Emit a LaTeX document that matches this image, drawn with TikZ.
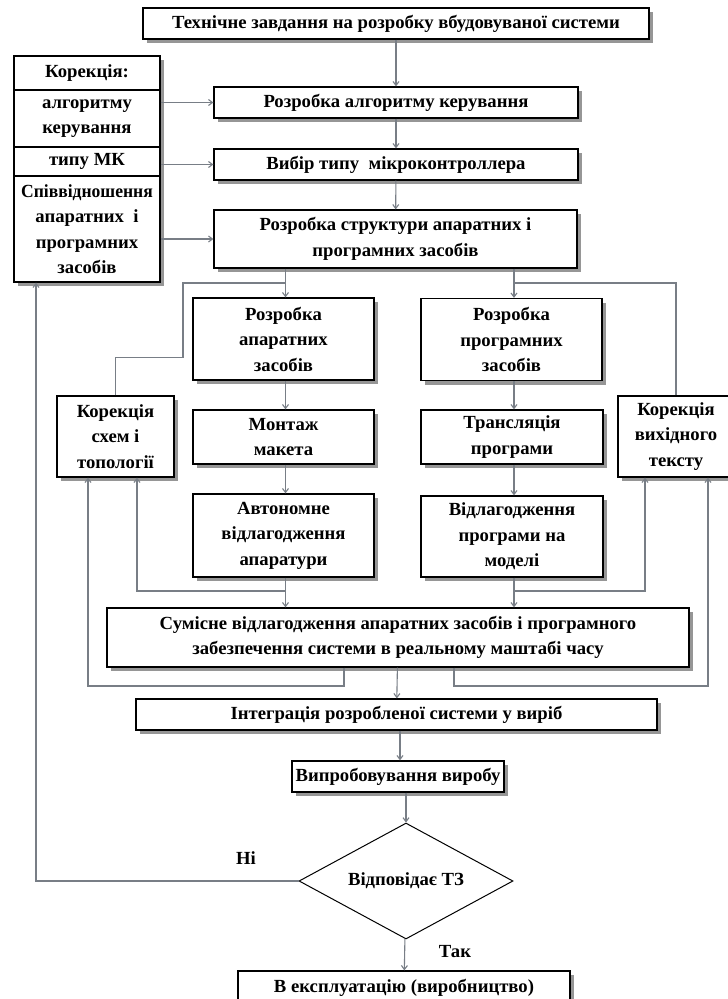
\documentclass[tikz,border=0pt]{standalone}
\usepackage{fontspec}
\usepackage{graphicx}
\setmainfont{Liberation Serif}[FakeStretch=1.01]
\usetikzlibrary{arrows.meta,shapes.geometric,shadows}
\definecolor{linegray}{RGB}{120,126,134}
\definecolor{shadowgray}{RGB}{150,150,150}
\begin{document}
\begin{tikzpicture}[x=1pt,y=-1pt,
  txt/.style={font=\bfseries\fontsize{18.5}{25.5}\selectfont, align=center, inner sep=0pt},
  box/.style={txt, draw=black, line width=1.2pt, fill=white,
    general shadow={fill=shadowgray, shadow xshift=4pt, shadow yshift=-4pt}},
  plain/.style={txt, draw=black, line width=1.2pt, fill=white},
  line/.style={draw=linegray, line width=1.1pt},
  arr/.style={line, -{Straight Barb[length=4pt,width=6pt]}}]
\clip (0,0) rectangle (728,999);
\fill[white] (0,0) rectangle (728,999);

% main column
\node[box, minimum width=506pt, minimum height=31pt] (top) at (396,23.5) {Технічне завдання на розробку вбудовуваної системи};
\node[box, minimum width=364pt, minimum height=31pt] (alg) at (396,102.5) {Розробка алгоритму керування};
\node[box, minimum width=364pt, minimum height=31pt] (mk) at (396,164.5) {Вибір типу \ мікроконтроллера};
\node[box, minimum width=363pt, minimum height=58pt] (struct) at (395.5,239) {Розробка структури апаратних і\\програмних засобів};

% left correction box
\node[box, minimum width=146pt, minimum height=226pt] (lb) at (87,169) {};
\node[plain, minimum width=146pt, minimum height=34pt] (lb1) at (87,73) {Корекція:};
\node[plain, minimum width=146pt, minimum height=57pt] (lb2) at (87,118.5) {алгоритму\\керування};
\node[plain, minimum width=146pt, minimum height=29pt] (lb3) at (87,161.5) {типу МК};
\node[plain, minimum width=146pt, minimum height=106pt] (lb4) at (87,229) {\scalebox{0.94}[1]{Співвідношення}\\апаратних \ і\\програмних\\засобів};

% two branches
\node[box, minimum width=181pt, minimum height=82pt] (hw) at (283.5,339) {Розробка\\апаратних\\засобів};
\node[box, minimum width=181pt, minimum height=82pt] (sw) at (511.5,339.5) {Розробка\\програмних\\засобів};
\node[box, minimum width=181pt, minimum height=54pt] (mont) at (283.5,437) {Монтаж\\макета};
\node[box, minimum width=182pt, minimum height=54pt] (trans) at (512,437) {Трансляція\\програми};
\node[box, minimum width=181pt, minimum height=83pt] (auto) at (283.5,535.5) {Автономне\\відлагодження\\апаратури};
\node[box, minimum width=182pt, minimum height=81pt] (dbg) at (512,536.5) {Відлагодження\\програми на\\моделі};
\node[box, minimum width=117pt, minimum height=81pt] (corrL) at (115.5,436.5) {Корекція\\схем і\\топології};
\node[box, minimum width=116pt, minimum height=81pt] (corrR) at (676,436.5) {Корекція\\вихідного\\тексту};

\node[box, minimum width=582pt, minimum height=59pt] (joint) at (398,637.5) {Сумісне відлагодження апаратних засобів і програмного\\забезпечення системи в реальному маштабі часу};
\node[box, minimum width=521pt, minimum height=31pt] (integ) at (396.5,714.5) {Інтеграція розробленої системи у виріб};
\node[box, minimum width=212pt, minimum height=31pt] (test) at (398,776.5) {Випробовування виробу};
\node[txt, draw=black, line width=1pt, fill=white, diamond, aspect=1.845, minimum width=214pt, minimum height=116pt] (dia) at (406,881) {Відповідає ТЗ};
\node[box, minimum width=332pt, minimum height=34pt] (final) at (404,988) {В експлуатацію (виробництво)};

\node[txt] (no) at (246,858) {Ні};
\node[txt] (yes) at (455,952) {Так};

% coordinates
\coordinate (jL) at (285.5,283);
\coordinate (jR) at (514,283);
\coordinate (aL) at (285.5,591);
\coordinate (aR) at (514,591);
\coordinate (bL) at (88,686);
\coordinate (bR) at (708,686);

% main arrows
\draw[arr] (top) -- (alg);
\draw[arr] (alg) -- (mk);
\draw[arr] (mk) -- (struct);
\draw[arr] (struct.south -| jL) -- (hw.north -| jL);
\draw[arr] (struct.south -| jR) -- (sw.north -| jR);
\draw[arr] (hw.south -| jL) -- (mont.north -| jL);
\draw[arr] (mont.south -| jL) -- (auto.north -| jL);
\draw[arr] (sw.south -| jR) -- (trans.north -| jR);
\draw[arr] (trans.south -| jR) -- (dbg.north -| jR);
\draw[arr] (auto.south -| aL) -- (joint.north -| aL);
\draw[arr] (dbg.south -| aR) -- (joint.north -| aR);
\draw[arr] (joint) -- (integ);
\draw[arr] (integ.south -| 400,0) -- (test.north -| 400,0);
\draw[arr] (test.south -| dia.north) -- (dia.north);
\draw[arr] (dia) -- (final);

% left box arrows
\draw[arr] (lb2.east |- alg.west) -- (alg.west);
\draw[arr] (lb3.east |- mk.west) -- (mk.west);
\draw[arr] (lb4.east |- struct.west) -- (struct.west);

% correction feedback (top)
\draw[line] (corrL.north) -- ++(0,-38) -| (183,283) -- (jL);
\draw[line] (corrR.north) |- (jR);

% correction feedback (bottom)
\draw[arr] (aL) -| ([xshift=21.5pt]corrL.south);
\draw[arr] ([xshift=-54pt]joint.south) |- (bL) -- ([xshift=-27.5pt]corrL.south);
\draw[arr] (aR) -| ([xshift=-31pt]corrR.south);
\draw[arr] ([xshift=56pt]joint.south) |- (bR) -- ([xshift=32pt]corrR.south);

% decision loop
\draw[arr] (dia.west) -| ([xshift=-51pt]lb4.south);
\end{tikzpicture}
\end{document}
